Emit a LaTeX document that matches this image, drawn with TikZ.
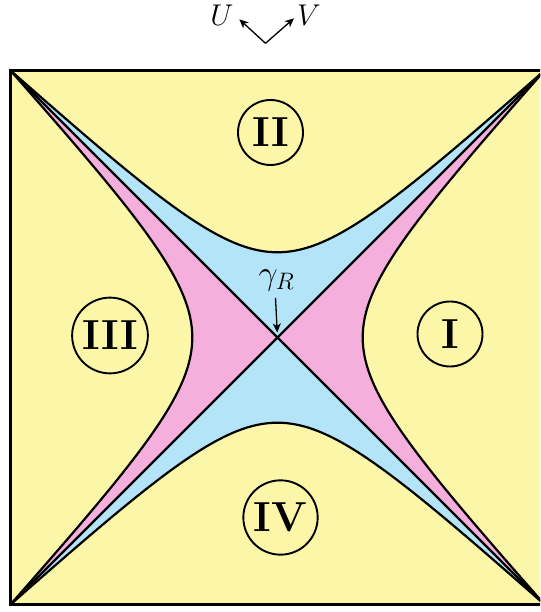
\RequirePackage{fix-cm}
\documentclass[tikz,border=0pt]{standalone}
\usepackage{fontspec}
\usetikzlibrary{arrows.meta}
\definecolor{yel}{RGB}{252,246,168}
\definecolor{blu}{RGB}{180,228,247}
\definecolor{pnk}{RGB}{245,175,220}
\tikzset{
  mainline/.style={line width=2.2pt, line join=round},
  border/.style={line width=2.6pt},
  region/.style={circle, draw, line width=1.9pt, minimum size=65pt, inner sep=5pt,
    font=\fontsize{42}{42}\selectfont\bfseries},
  mlabel/.style={inner sep=0pt, font=\fontsize{30}{30}\selectfont},
  arr/.style={line width=1.3pt, -{Stealth[length=9pt,width=8pt,inset=2.5pt]}}
}
\begin{document}
\begin{tikzpicture}[x=1pt,y=1pt]
\useasboundingbox (0,0) rectangle (540,612);
\clip (0,0) rectangle (540,612);
\def\cx{277.5}
\def\cy{274.5}
\def\hs{267}
\def\kv{0.877}
\def\kh{0.877}
\coordinate (C) at (\cx,\cy);
\coordinate (TL) at (\cx-\hs,\cy+\hs);
\coordinate (TR) at (\cx+\hs,\cy+\hs);
\coordinate (BL) at (\cx-\hs,\cy-\hs);
\coordinate (BR) at (\cx+\hs,\cy-\hs);
% background
\fill[yel] (TL) rectangle (BR);
% blue regions
\fill[blu] (C) -- (TL) -- plot[domain=-90:90,samples=121] ({\cx+\hs/90*\x},{\cy+\hs/90*acos(\kv*cos(\x))}) -- cycle;
\fill[blu] (C) -- (BL) -- plot[domain=-90:90,samples=121] ({\cx+\hs/90*\x},{\cy-\hs/90*acos(\kv*cos(\x))}) -- cycle;
% pink regions
\fill[pnk] (C) -- (TR) -- plot[domain=90:-90,samples=121] ({\cx+\hs/90*acos(\kh*cos(\x))},{\cy+\hs/90*\x}) -- cycle;
\fill[pnk] (C) -- (TL) -- plot[domain=90:-90,samples=121] ({\cx-\hs/90*acos(\kh*cos(\x))},{\cy+\hs/90*\x}) -- cycle;
% curves
\draw[mainline] plot[domain=-90:90,samples=121] ({\cx+\hs/90*\x},{\cy+\hs/90*acos(\kv*cos(\x))});
\draw[mainline] plot[domain=-90:90,samples=121] ({\cx+\hs/90*\x},{\cy-\hs/90*acos(\kv*cos(\x))});
\draw[mainline] plot[domain=90:-90,samples=121] ({\cx+\hs/90*acos(\kh*cos(\x))},{\cy+\hs/90*\x});
\draw[mainline] plot[domain=90:-90,samples=121] ({\cx-\hs/90*acos(\kh*cos(\x))},{\cy+\hs/90*\x});
% diagonals and border
\draw[mainline] (TL) -- (BR);
\draw[mainline] (TR) -- (BL);
\draw[border] (TL) rectangle (BR);
% region labels
\node[region] (r2) at (270.5,479.5) {II};
\node[region] (r1) at (450,278) {I};
\node[region] (r3) at (110,276.5) {III};
\node[region] (r4) at (280.5,94.5) {IV};
% gamma_R
\node[mlabel, font=\fontsize{34}{34}\selectfont] (g) at (276.5,332) {$\gamma_R$};
\draw[arr, shorten >=5pt] (g.south) ++(-1pt,-7pt) coordinate (gs) (gs) -- (C);
% U V axes
\coordinate (O) at (265.5,568.7);
\coordinate (Ut) at (239.3,592.7);
\coordinate (Vt) at (294,593.7);
\node[mlabel] (U) at (222,597) {$U$};
\node[mlabel] (V) at (309,597) {$V$};
\draw[arr] (O) -- (Ut);
\draw[arr] (O) -- (Vt);
\end{tikzpicture}
\end{document}
